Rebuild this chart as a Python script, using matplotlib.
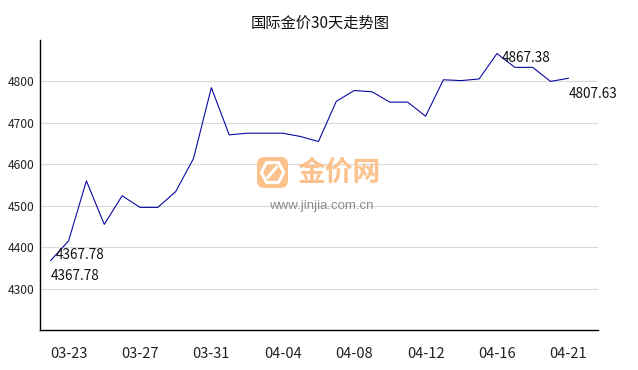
import matplotlib
matplotlib.use('Agg')
import matplotlib.pyplot as plt
from matplotlib.patches import FancyBboxPatch, Polygon

plt.rcParams['font.family'] = ['Noto Sans CJK SC', 'DejaVu Sans']

# 30 days of international gold price
dates = ['03-22', '03-23', '03-24', '03-25', '03-26', '03-27', '03-28', '03-29',
         '03-30', '03-31', '04-01', '04-02', '04-03', '04-04', '04-05', '04-06',
         '04-07', '04-08', '04-09', '04-10', '04-11', '04-12', '04-13', '04-14',
         '04-15', '04-16', '04-17', '04-18', '04-20', '04-21']
prices = [4367.78, 4415, 4560, 4455, 4524, 4496, 4496, 4534,
          4614, 4785, 4671, 4675, 4675, 4675, 4667, 4655,
          4752, 4778, 4775, 4750, 4750, 4716, 4804, 4802,
          4806, 4867.38, 4834, 4834, 4800, 4807.63]
tick_dates = ['03-23', '03-27', '03-31', '04-04', '04-08', '04-12', '04-16', '04-21']
y_ticks = [4300, 4400, 4500, 4600, 4700, 4800]

W, H = 638, 370


def main():
    fig = plt.figure(figsize=(W / 100, H / 100), dpi=100)
    ax = fig.add_axes([40 / W, 1 - 330 / H, 558 / W, 290 / H])

    x = list(range(len(prices)))
    ax.plot(x, prices, '-', color='#0a0aa0', lw=0.8, zorder=3)

    ax.set_xlim(-0.6, 30.66)
    ax.set_ylim(4200, 4900)
    ax.set_yticks(y_ticks)
    ax.set_xticks([dates.index(d) for d in tick_dates])
    ax.set_xticklabels(tick_dates)
    ax.tick_params(axis='x', length=0, pad=12, labelsize=10.5, colors='#222222')
    ax.tick_params(axis='y', length=0, pad=4, labelsize=8.7, colors='#222222')
    ax.grid(axis='y', color='#d9d9d9', lw=0.8)
    ax.set_axisbelow(True)
    for s in ['top', 'right']:
        ax.spines[s].set_visible(False)
    for s in ['left', 'bottom']:
        ax.spines[s].set_linewidth(1.0)
        ax.spines[s].set_color('black')

    # labels: first, max and last values
    i_max = prices.index(max(prices))
    i_last = len(prices) - 1
    fmt = '%.2f'
    ax.annotate(fmt % prices[0], (0, prices[0]), xytext=(5, 5), textcoords='offset pixels',
                ha='left', va='center', fontsize=9.8, color='#111111')
    ax.annotate(fmt % prices[0], (0, prices[0]), xytext=(0, -16), textcoords='offset pixels',
                ha='left', va='center', fontsize=9.8, color='#111111')
    ax.annotate(fmt % prices[i_max], (i_max, prices[i_max]), xytext=(5, -4), textcoords='offset pixels',
                ha='left', va='center', fontsize=9.8, color='#111111')
    ax.annotate(fmt % prices[i_last], (i_last, prices[i_last]), xytext=(0, -16), textcoords='offset pixels',
                ha='left', va='center', fontsize=9.8, color='#111111')

    fig.text(320 / W, 1 - 23 / H, '国际金价30天走势图', ha='center', va='center',
             fontsize=11, color='#111111')

    # watermark
    lax = fig.add_axes([256 / W, 1 - 189 / H, 33 / W, 33 / H])
    lax.set_xlim(0, 1)
    lax.set_ylim(0, 1)
    lax.axis('off')
    lax.add_patch(FancyBboxPatch((0.03, 0.03), 0.94, 0.94,
                                 boxstyle='round,pad=0,rounding_size=0.22',
                                 fc='#fbc28e', ec='none'))
    lax.add_patch(Polygon([[0.32, 0.2], [0.68, 0.2], [0.84, 0.5], [0.68, 0.8],
                           [0.32, 0.8], [0.16, 0.5]], closed=True,
                          fc='none', ec='white', lw=2.2))
    lax.plot([0.36, 0.62], [0.36, 0.66], color='white', lw=2.2)
    fig.text(297 / W, 1 - 173 / H, '金价网', ha='left', va='center', fontsize=20,
             fontweight='bold', color='#fbc28e')
    fig.text(321 / W, 1 - 206 / H, 'www.jinjia.com.cn', ha='center', va='center',
             fontsize=9.5, color='#8a8a8a', family=['Liberation Sans', 'DejaVu Sans'])

    fig.savefig('out.png', dpi=100)


if __name__ == '__main__':
    main()
